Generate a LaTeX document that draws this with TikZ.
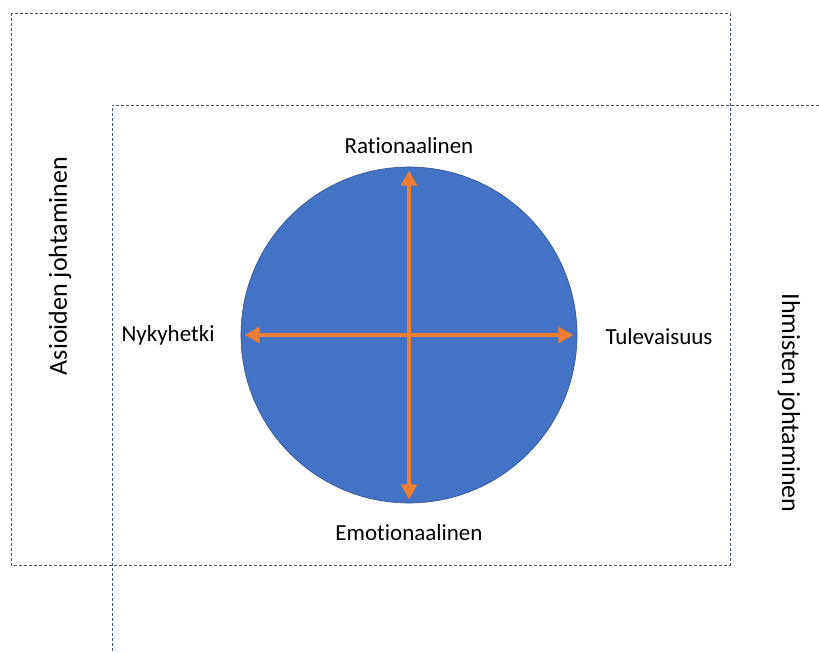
\documentclass[tikz,border=0pt]{standalone}
\usepackage{fontspec}
\setmainfont{Carlito}[Ligatures=NoCommon]
\usetikzlibrary{arrows.meta}
\definecolor{discblue}{HTML}{4472C4}
\definecolor{discedge}{HTML}{2F528F}
\definecolor{axisorange}{HTML}{ED7D31}
\definecolor{frameline}{HTML}{44546A}
\begin{document}
\begin{tikzpicture}[x=1pt, y=-1pt,
	frame/.style={frameline, line width=0.8pt, dash pattern=on 3pt off 2pt},
	disc/.style={circle, fill=discblue, draw=discedge, line width=0.6pt, minimum size=336pt, inner sep=0pt},
	axis/.style={axisorange, line width=4pt, {Triangle[width=16pt,length=15pt]}-{Triangle[width=16pt,length=15pt]}, shorten <=4pt, shorten >=4pt},
	lbl/.style={font=\fontsize{23}{27}\selectfont, inner sep=0pt},
	side/.style={font=\fontsize{26}{30}\selectfont, inner sep=0pt}]
	\useasboundingbox (0,0) rectangle (819,653);

	% frames
	\draw[frame] (11,13) rectangle (730,565);
	\draw[frame] (819,105) -- (112,105) -- (112,653);

	% disc and axes
	\node[disc] (c) at (409,335) {};
	\draw[axis] (c.south) -- (c.north);
	\draw[axis] (c.west) -- (c.east);

	% labels
	\node[lbl] (rat) at (409,146) {Rationaalinen};
	\node[lbl] (emo) at (409,533) {Emotionaalinen};
	\node[lbl] (nyt) at (168,335) {Nykyhetki};
	\node[lbl] (tul) at (659,337) {Tulevaisuus};
	\node[side, rotate=90] (asiat) at (60,266) {Asioiden johtaminen};
	\node[side, rotate=-90] (ihmiset) at (789,403) {Ihmisten johtaminen};
\end{tikzpicture}
\end{document}
